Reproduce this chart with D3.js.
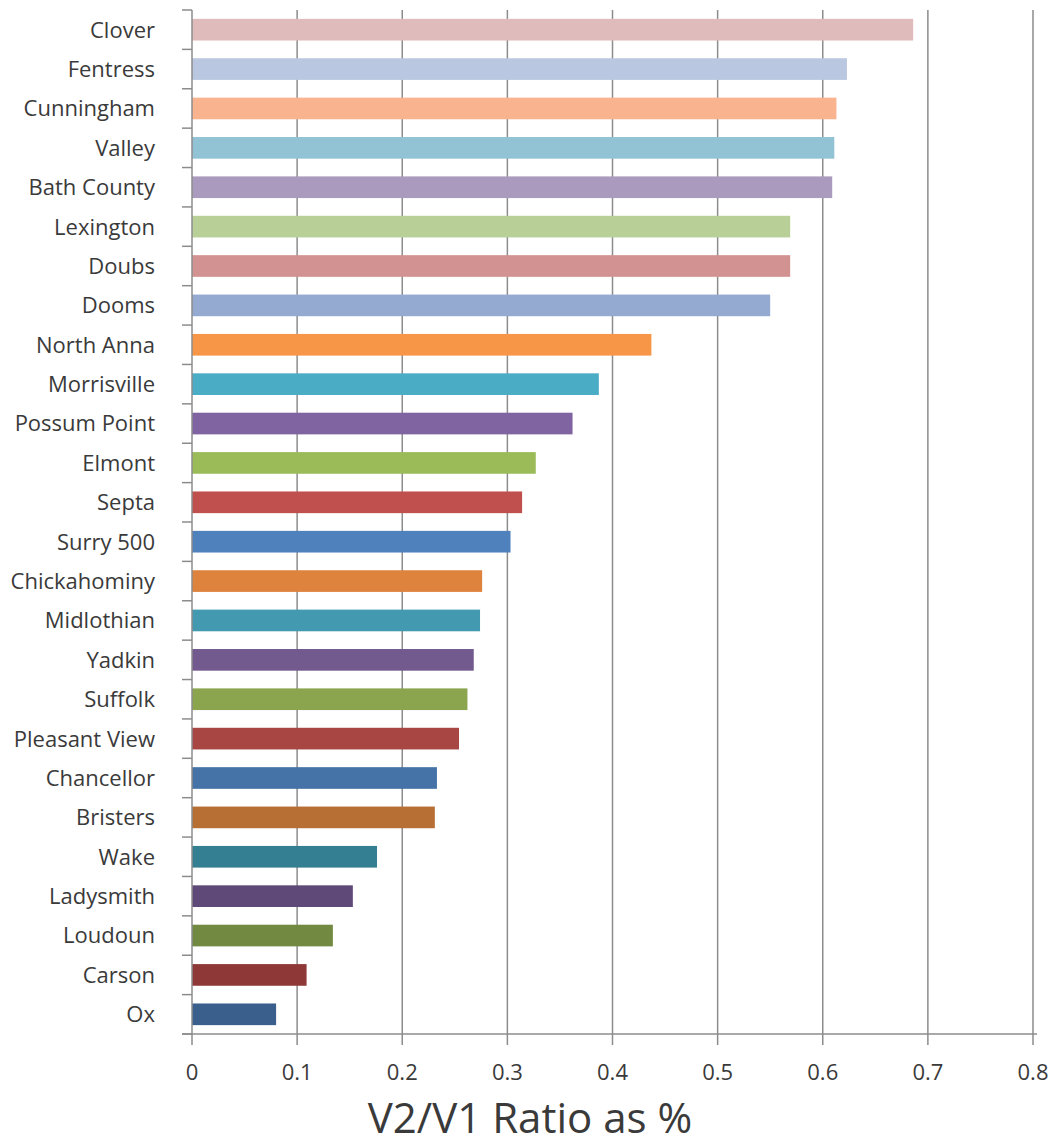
<!DOCTYPE html>
<html>
<head>
<meta charset="utf-8">
<script src="https://cdn.jsdelivr.net/npm/d3@7"></script>
<style>
  html, body { margin: 0; padding: 0; background: #fff; }
  svg { display: block; }
</style>
</head>
<body>
<svg id="chart" width="1048" height="1146"></svg>
<script>
const categories = ["Clover","Fentress","Cunningham","Valley","Bath County","Lexington","Doubs","Dooms","North Anna","Morrisville","Possum Point","Elmont","Septa","Surry 500","Chickahominy","Midlothian","Yadkin","Suffolk","Pleasant View","Chancellor","Bristers","Wake","Ladysmith","Loudoun","Carson","Ox"];
const values = [0.686,0.623,0.613,0.611,0.609,0.569,0.569,0.550,0.437,0.387,0.362,0.327,0.314,0.303,0.276,0.274,0.268,0.262,0.254,0.233,0.231,0.176,0.153,0.134,0.109,0.080];
const colors = ["#E0BBBB","#B9C7E0","#F9B48F","#92C3D5","#AA9ABD","#B9CF98","#D39292","#94AAD1","#F79646","#4BACC6","#8064A2","#9BBB59","#C0504D","#4F81BD","#DD833D","#4399AF","#72598E","#8AA54E","#A84644","#4572A7","#B86F33","#357F92","#5E4978","#728942","#8E3937","#3A5F8C"];
const xTicks = [0,0.1,0.2,0.3,0.4,0.5,0.6,0.7,0.8];
const xTitle = "V2/V1 Ratio as %";

const svg = d3.select("#chart");
const mLeft = 192, mRight = 1033, mTop = 10, mBottom = 1034;

const x = d3.scaleLinear().domain([0, 0.8]).range([mLeft, mRight]);
const y = d3.scaleBand().domain(categories).range([mTop, mBottom]).paddingInner(0.45).paddingOuter(0.225);
const yb = d3.scaleBand().domain(categories).range([mTop, mBottom]);

// gridlines
svg.append("g").selectAll("line").data(xTicks.slice(1)).join("line")
  .attr("x1", d => x(d)).attr("x2", d => x(d))
  .attr("y1", mTop).attr("y2", mBottom)
  .attr("stroke", "#8c8c8c").attr("stroke-width", 1.5);

// bars
svg.append("g").selectAll("rect").data(categories).join("rect")
  .attr("x", x(0))
  .attr("y", d => y(d))
  .attr("width", (d, i) => x(values[i]) - x(0))
  .attr("height", y.bandwidth())
  .attr("fill", (d, i) => colors[i]);

// y axis
const yAxis = svg.append("g").attr("transform", `translate(${mLeft},0)`);
yAxis.append("line").attr("x1", 0).attr("x2", 0).attr("y1", mTop).attr("y2", mBottom)
  .attr("stroke", "#8c8c8c").attr("stroke-width", 1.5);
const yTickPos = categories.map(c => yb(c)).concat([mBottom]);
yAxis.selectAll("line.tk").data(yTickPos).join("line").attr("class","tk")
  .attr("x1", -10).attr("x2", 0).attr("y1", d => d).attr("y2", d => d)
  .attr("stroke", "#8c8c8c").attr("stroke-width", 1.5);
yAxis.selectAll("text").data(categories).join("text")
  .attr("x", -37).attr("y", d => yb(d) + yb.bandwidth() / 2)
  .attr("dy", "0.36em").attr("text-anchor", "end")
  .attr("font-family", "'Open Sans', sans-serif").attr("font-size", 22)
  .attr("fill", "#3a3a3a")
  .text(d => d);

// x axis
const xAxis = svg.append("g").attr("transform", `translate(0,${mBottom})`);
xAxis.append("line").attr("x1", mLeft - 10).attr("x2", mRight + 4).attr("y1", 0).attr("y2", 0)
  .attr("stroke", "#8c8c8c").attr("stroke-width", 1.5);
xAxis.selectAll("line.tk").data(xTicks).join("line").attr("class","tk")
  .attr("x1", d => x(d)).attr("x2", d => x(d)).attr("y1", 0).attr("y2", 11)
  .attr("stroke", "#8c8c8c").attr("stroke-width", 1.5);
xAxis.selectAll("text").data(xTicks).join("text")
  .attr("x", d => x(d)).attr("y", 46)
  .attr("text-anchor", "middle")
  .attr("font-family", "'Open Sans', sans-serif").attr("font-size", 22)
  .attr("fill", "#3a3a3a")
  .text(d => d3.format("")(d));

svg.append("text")
  .attr("x", 530).attr("y", 1133)
  .attr("text-anchor", "middle")
  .attr("font-family", "'Open Sans', sans-serif").attr("font-size", 42)
  .attr("fill", "#3a3a3a")
  .text(xTitle);
</script>
</body>
</html>
